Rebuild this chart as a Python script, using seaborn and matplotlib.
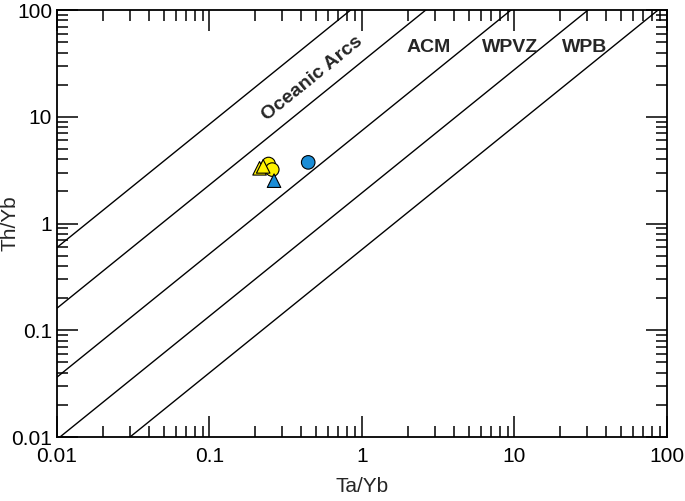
import numpy as np
import pandas as pd
import matplotlib
matplotlib.use("Agg")
import matplotlib.pyplot as plt
import seaborn as sns
from matplotlib.ticker import LogLocator, FixedLocator, FixedFormatter, NullFormatter

# samples
ta_yb = [0.213, 0.225, 0.244, 0.258, 0.444, 0.265]
th_yb = [3.29, 3.43, 3.61, 3.20, 3.74, 2.52]
group = ["yellow", "yellow", "yellow", "yellow", "blue", "blue"]
shape = ["tri", "tri", "circ", "circ", "circ", "tri"]

# field boundaries: Th/Yb at Ta/Yb = 0.01, common log-log slope
bound_start = [0.597, 0.161, 0.0364, 0.0095, 0.0028]
bound_slope = 1.155

field_names = ["Oceanic Arcs", "ACM", "WPVZ", "WPB"]
field_x = [0.476, 2.72, 9.33, 28.9]
field_y = [22.6, 45, 45, 45]
field_rot = [39, 0, 0, 0]

ticks = [0.01, 0.1, 1, 10, 100]
tick_labels = ["0.01", "0.1", "1", "10", "100"]

sns.set_style("ticks")
plt.rcParams["font.family"] = ["Liberation Sans", "DejaVu Sans"]

fig = plt.figure(figsize=(6.85, 5.01), dpi=100)
ax = fig.add_axes([0.0832, 0.1277, 0.8905, 0.8523])

# boundary lines
xs = np.logspace(-2, 2, 200)
rows = []
for i, b in enumerate(bound_start):
    ys = b * (xs / 0.01) ** bound_slope
    for x, y in zip(xs, ys):
        rows.append({"x": x, "y": y, "line": i})
lines = pd.DataFrame(rows)
sns.lineplot(data=lines, x="x", y="y", units="line", estimator=None,
             color="black", linewidth=1.0, ax=ax, legend=False)

df = pd.DataFrame({"Ta/Yb": ta_yb, "Th/Yb": th_yb, "group": group, "shape": shape})
order = [(df["group"] == "yellow") & (df["shape"] == "circ"),
         (df["group"] == "yellow") & (df["shape"] == "tri"),
         (df["group"] == "blue")]
for m in order:
    sns.scatterplot(data=df[m], x="Ta/Yb", y="Th/Yb", hue="group", style="shape",
                    palette={"yellow": "#FFF200", "blue": "#1B8DD6"},
                    markers={"circ": "o", "tri": "^"}, s=95,
                    edgecolor="black", linewidth=0.8, ax=ax, legend=False, zorder=3)

for name, x, y, r in zip(field_names, field_x, field_y, field_rot):
    ax.text(x, y, name, fontsize=14, fontweight="bold", rotation=r,
            ha="center", va="center", rotation_mode="anchor")

ax.set_xscale("log")
ax.set_yscale("log")
ax.set_xlim(0.01, 100)
ax.set_ylim(0.01, 100)
for axis in (ax.xaxis, ax.yaxis):
    axis.set_major_locator(FixedLocator(ticks))
    axis.set_major_formatter(FixedFormatter(tick_labels))
    axis.set_minor_locator(LogLocator(base=10, subs=np.arange(2, 10)))
    axis.set_minor_formatter(NullFormatter())

ax.tick_params(which="both", direction="in", top=True, right=True,
               width=1.1, labelsize=15, color="black", labelcolor="black")
ax.tick_params(which="major", length=15)
ax.tick_params(axis="x", which="major", pad=7)
ax.tick_params(axis="y", which="major", pad=3.5)
ax.tick_params(which="minor", length=8)
for sp in ax.spines.values():
    sp.set_linewidth(1.3)
    sp.set_color("black")

ax.set_xlabel("Ta/Yb", fontsize=15, labelpad=8)
ax.set_ylabel("Th/Yb", fontsize=15)
ax.yaxis.set_label_coords(-0.062, 0.5)

fig.savefig("out.png", dpi=100)
